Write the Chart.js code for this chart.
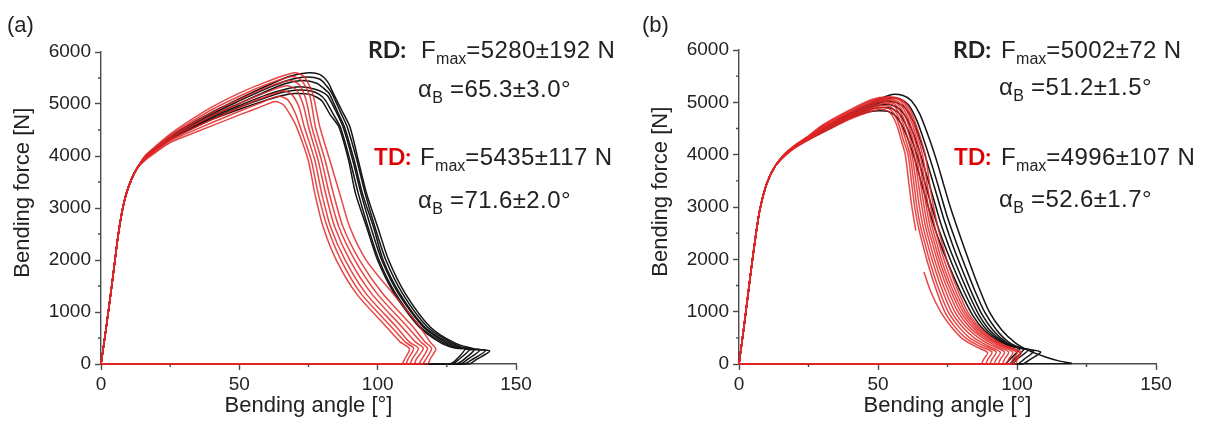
<!DOCTYPE html>
<html>
<head>
<meta charset="utf-8">
<script src="https://cdn.jsdelivr.net/npm/chart.js@4"></script>
<style>
  html, body { margin: 0; padding: 0; background: #fff; }
  #wrap { position: relative; width: 1207px; height: 427px; overflow: hidden; font-family: "Liberation Sans", Arial, sans-serif; color: #222; }
  canvas { position: absolute; top: 0; }
  .note { position: absolute; font-size: 24px; line-height: 24px; letter-spacing: 0.4px; white-space: nowrap; }
  .note sub { font-size: 16px; vertical-align: -6px; line-height: 0; letter-spacing: 0; }
  .lab { font-family: Lato, "Open Sans", sans-serif; font-weight: bold; font-size: 23px; line-height: 23px; letter-spacing: 0; }
  .red { color: #e00000; }
  .panel { position: absolute; font-size: 22px; line-height: 22px; }
</style>
</head>
<body>
<div id="wrap">
  <canvas id="chartA" width="620" height="427" style="left:0"></canvas>
  <canvas id="chartB" width="569" height="427" style="left:638px"></canvas>

  <div class="panel" style="left:7px; top:14px">(a)</div>
  <div class="panel" style="left:642px; top:14px">(b)</div>

  <div class="note lab" style="left:368px; top:38px">RD:</div>
  <div class="note" style="left:421px; top:38px">F<sub>max</sub>=5280±192 N</div>
  <div class="note" style="left:418px; top:77px">α<sub>B</sub> =65.3±3.0°</div>
  <div class="note lab red" style="left:374px; top:145px">TD:</div>
  <div class="note" style="left:420px; top:145px">F<sub>max</sub>=5435±117 N</div>
  <div class="note" style="left:418px; top:188px">α<sub>B</sub> =71.6±2.0°</div>

  <div class="note lab" style="left:953px; top:38px">RD:</div>
  <div class="note" style="left:1001px; top:38px">F<sub>max</sub>=5002±72 N</div>
  <div class="note" style="left:999px; top:75px">α<sub>B</sub> =51.2±1.5°</div>
  <div class="note lab red" style="left:954px; top:145px">TD:</div>
  <div class="note" style="left:1001px; top:145px">F<sub>max</sub>=4996±107 N</div>
  <div class="note" style="left:999px; top:187px">α<sub>B</sub> =52.6±1.7°</div>
</div>
<script>
// axis ticks
const xTicks = [0, 50, 100, 150];
const xMinor = [25, 75, 125];
const yTicks = [0, 1000, 2000, 3000, 4000, 5000, 6000];
const yMinor = [500, 1500, 2500, 3500, 4500, 5500];

// (a) bending angle [deg], bending force [N] - elastic start shared by all samples
const riseA = [[0,0],[2,750],[4,1550],[6,2400],[7.5,2900],[9,3250],[11,3550],[13,3760]];

// (a) RD samples
const rdA1 = [[16,3990],[20,4170],[25,4370],[30,4540],[40,4840],[50,5100],[60,5350],[68,5530],[75,5600],[79,5570],[82,5420],[84,5200],[87,4880],[90,4558],[93,3917],[96,3277],[100,2635],[104,1994],[110,1354],[119,712],[128,400],[135,290],[140.5,250],[135.5,80],[133,0],[0,0]];
const rdA2 = [[16,3985],[20,4160],[25,4360],[30,4520],[40,4810],[50,5060],[60,5300],[68,5460],[74,5520],[79,5480],[81.5,5350],[83.5,5200],[86.5,4850],[89,4558],[92.5,3917],[95.5,3277],[99,2635],[103,1994],[109,1354],[118,712],[127,400],[133,280],[139,260],[134,80],[131,0],[0,0]];
const rdA3 = [[16,3980],[20,4150],[25,4350],[30,4500],[40,4780],[50,5010],[60,5250],[67,5400],[73,5450],[78,5400],[80.5,5300],[82.5,5200],[85.5,4850],[88,4558],[91.5,3917],[94.5,3277],[98.5,2635],[102,1994],[108,1354],[117,712],[126,400],[132,290],[137,270],[132,70],[130,0],[0,0]];
const rdA4 = [[16,3975],[20,4145],[25,4340],[30,4480],[40,4750],[50,4970],[60,5180],[67,5290],[72,5330],[77,5290],[80,5230],[82,5150],[85,4850],[87.5,4558],[91,3917],[94,3277],[97.5,2635],[101.5,1994],[107.5,1354],[116.5,712],[125,400],[130,300],[135,290],[131,80],[128,0],[0,0]];
const rdA5 = [[16,3970],[20,4140],[25,4335],[30,4470],[40,4720],[50,4940],[60,5130],[66,5230],[71,5270],[76,5250],[79,5180],[81,5080],[84,4800],[86.5,4558],[90,3917],[93,3277],[96.5,2635],[100.5,1994],[106.5,1354],[115.5,712],[124,400],[129,300],[133.5,300],[129,70],[127,0],[0,0]];
const rdA6 = [[16,3965],[20,4130],[25,4320],[30,4450],[40,4700],[50,4900],[60,5080],[66,5170],[70,5200],[75,5190],[78,5130],[80,5050],[83,4780],[86,4558],[89.5,3917],[92,3277],[96,2635],[100,1994],[106,1354],[115,712],[123,400],[127.5,310],[131.5,290],[128,60],[126,0],[0,0]];

// (a) TD samples
const tdA1 = [[16,3920],[20,4080],[25,4260],[30,4370],[40,4580],[50,4790],[58,4950],[63,5050],[66,4980],[68.5,4780],[70.7,4558],[74.9,3917],[77.3,3277],[80.3,2635],[85.1,1994],[92.3,1354],[103.2,712],[108,430],[111.5,290],[110,120],[108.5,0],[0,0]];
const tdA2 = [[16,3935],[20,4100],[25,4290],[30,4410],[40,4640],[50,4860],[58,5030],[64,5150],[67.5,5080],[70,4850],[72,4558],[76,3917],[78.5,3277],[81.8,2635],[86.8,1994],[94,1354],[105,712],[110,420],[113,300],[111,100],[110,0],[0,0]];
const tdA3 = [[16,3950],[20,4120],[25,4315],[30,4450],[40,4700],[50,4930],[58,5110],[66,5250],[69,5180],[71.5,4950],[73.5,4558],[77.3,3917],[79.8,3277],[83,2635],[88.3,1994],[95.8,1354],[106.8,712],[111.5,420],[114.7,300],[112.5,100],[111.5,0],[0,0]];
const tdA4 = [[16,3965],[20,4140],[25,4345],[30,4490],[40,4770],[50,5010],[60,5230],[67,5350],[70.5,5280],[73,5000],[75,4558],[78.5,3917],[81.2,3277],[84.5,2635],[90,1994],[97.8,1354],[108.8,712],[113.5,430],[116.5,300],[114,100],[113,0],[0,0]];
const tdA5 = [[16,3980],[20,4160],[25,4370],[30,4530],[40,4830],[50,5090],[60,5320],[68,5450],[71.5,5380],[74,5100],[76.2,4558],[79.7,3917],[82.5,3277],[86,2635],[91.8,1994],[99.8,1354],[110.8,712],[115.5,430],[118,300],[116,100],[114.5,0],[0,0]];
const tdA6 = [[16,3995],[20,4180],[25,4395],[30,4570],[40,4890],[50,5150],[60,5380],[69,5530],[72.5,5450],[75.5,5150],[77.5,4558],[81,3917],[84,3277],[87.5,2635],[93.5,1994],[101.8,1354],[112.8,712],[117,430],[119.5,300],[117.5,100],[116,0],[0,0]];
const tdA7 = [[16,4010],[20,4200],[25,4420],[30,4610],[40,4940],[50,5210],[60,5430],[70,5600],[73.5,5520],[76.5,5200],[79.1,4558],[82.7,3917],[86.3,3277],[89.9,2635],[95.9,1994],[105.5,1354],[115.3,712],[119,420],[121,290],[119,100],[118,0],[0,0]];

// (b) elastic start
const riseB = [[0,0],[2,800],[4,1650],[6,2450],[7.5,2950],[10,3450],[13,3780]];

// (b) RD samples
const rdB1 = [[16.5,4010],[20,4165],[25,4330],[32,4560],[40,4800],[48,5000],[55,5150],[59,5130],[62,5030],[65,4780],[68.5,4300],[71,3900],[73.5,3450],[76,3000],[79.5,2450],[82.5,2000],[86,1500],[90,1000],[94.5,650],[99.5,400],[104.5,250],[110,140],[115,60],[119.5,10],[0,0]];
const rdB2 = [[16.5,4005],[20,4160],[25,4320],[32,4540],[40,4780],[48,4970],[54,5080],[58,5060],[61,4950],[64,4650],[67,4200],[70,3700],[72.5,3250],[75,2800],[78.3,2300],[81.5,1850],[85,1380],[88.5,980],[92.5,660],[97,420],[102,300],[108.5,230],[104.5,80],[102,0],[0,0]];
const rdB3 = [[16.5,4000],[20,4155],[25,4315],[32,4530],[40,4760],[48,4940],[53,5020],[57,4990],[60,4880],[63,4600],[66,4150],[68.8,3650],[71.3,3200],[73.8,2750],[77,2250],[80.3,1800],[83.8,1350],[87.3,960],[91.3,650],[96,420],[101,300],[106,250],[102.5,90],[100,0],[0,0]];
const rdB4 = [[16.5,3995],[20,4150],[25,4310],[32,4510],[40,4740],[47,4900],[52,4960],[56,4930],[59,4800],[62,4500],[65,4050],[67.8,3550],[70.3,3100],[72.8,2650],[76,2180],[79.3,1750],[82.8,1320],[86.3,940],[90.3,640],[95,430],[99.5,320],[104,270],[100,90],[98,0],[0,0]];
const rdB5 = [[16.5,3990],[20,4145],[25,4300],[32,4500],[40,4720],[46,4850],[51,4900],[55,4880],[58,4760],[61,4450],[64,4000],[66.8,3480],[69.2,3030],[71.7,2600],[75,2130],[78.3,1700],[81.8,1290],[85.3,930],[89.3,640],[94,440],[98.5,330],[102.5,290],[99,90],[97,0],[0,0]];
const rdB6 = [[16.5,3985],[20,4140],[25,4290],[32,4480],[40,4700],[46,4810],[50,4840],[54,4820],[57,4700],[60,4400],[63,3950],[65.8,3420],[68.2,2980],[70.7,2550],[74,2080],[77.3,1660],[80.8,1260],[84.3,910],[88.3,640],[93,450],[97.5,340],[101,300],[97.5,90],[95.5,0],[0,0]];

// (b) TD samples (null = gap in the recorded signal)
const tdB1 = [[16.5,3975],[20,4125],[25,4280],[30,4420],[40,4680],[47,4820],[51,4870],[54,4820],[56.5,4600],[58.5,4250],[59.8,4000],[61,3500],[62.2,3000],[63.6,2550],[65,null],[66.5,1760],[69,1380],[72.5,1000],[76.2,720],[80,500],[84.5,350],[89.4,220],[88,90],[87,0],[0,0]];
const tdB2 = [[16.5,3980],[20,4130],[25,4290],[30,4440],[40,4700],[47,4850],[51,4900],[54.5,4860],[57,4650],[59,4300],[60.8,4000],[62,3500],[63.2,3000],[64.6,2600],[66,2300],[67.6,1983],[70.4,1500],[74,1000],[77.8,700],[81.5,500],[85.8,360],[91,230],[89.5,90],[88.5,0],[0,0]];
const tdB3 = [[16.5,3985],[20,4140],[25,4300],[30,4460],[40,4720],[47,4880],[51.5,4940],[55,4900],[57.5,4700],[59.6,4350],[61.5,4000],[62.8,3500],[64,3000],[65.4,2600],[66.9,2300],[68.5,1983],[71.4,1500],[75.2,1000],[79.2,700],[83,500],[87.5,360],[92.5,230],[91,90],[90,0],[0,0]];
const tdB4 = [[16.5,3990],[20,4145],[25,4305],[30,4475],[40,4740],[48,4920],[52,4980],[55.5,4940],[58,4740],[60.2,4400],[62.2,4000],[63.6,3500],[64.9,3000],[66.3,2600],[67.8,2300],[69.5,1983],[72.5,1500],[76.4,1000],[80.5,700],[84.6,500],[89,360],[94,225],[92.5,90],[91.5,0],[0,0]];
const tdB5 = [[16.5,3995],[20,4150],[25,4310],[30,4490],[40,4760],[48,4950],[52,5010],[56,4970],[58.5,4780],[60.8,4450],[63,4000],[64.4,3500],[65.8,3000],[67.2,2600],[68.7,2300],[70.4,1983],[73.5,1500],[77.6,1000],[81.8,700],[86.2,500],[90.6,360],[95.5,230],[94,90],[93,0],[0,0]];
const tdB6 = [[16.5,4000],[20,4155],[25,4320],[30,4505],[40,4780],[48,4980],[52.5,5040],[56.5,5000],[59,4820],[61.4,4500],[63.7,4000],[65.2,3500],[66.6,3000],[68,2600],[69.6,2300],[71.3,1983],[74.5,1500],[78.7,1000],[83,700],[87.6,500],[92,360],[97,230],[95.5,90],[94.5,0],[0,0]];
const tdB7 = [[16.5,4005],[20,4160],[25,4330],[30,4520],[40,4800],[48,5000],[53,5060],[57,5020],[59.5,4850],[62,4520],[64.5,4000],[66,3500],[67.4,3000],[68.8,2600],[70.4,2300],[72.1,1983],[75.4,1500],[79.7,1000],[84.1,700],[88.6,500],[93.2,360],[98.5,225],[97,90],[96,0],[0,0]];
const tdB8 = [[16.5,4010],[20,4165],[25,4340],[30,4535],[40,4820],[48,5020],[53,5080],[57.5,5050],[60,4880],[62.5,4560],[65.2,4000],[66.7,3500],[68.1,3000],[69.6,2600],[71.2,2300],[72.9,1983],[76.2,1500],[80.6,1000],[85,700],[89.5,500],[94.2,360],[100,220],[98.5,90],[97.5,0],[0,0]];
const tdB9 = [[16.5,4015],[20,4170],[25,4350],[30,4550],[40,4840],[48,5040],[53.5,5100],[58,5060],[60.5,4900],[63,4580],[66,4000],[67.5,3500],[69,3000],[70.5,2600],[72,2300],[73.8,1983],[77.1,1500],[81.4,1000],[85.8,700],[90.2,500],[95,360],[101,220],[99.5,90],[98.5,0],[0,0]];
const tdB10 = [[16.5,4020],[20,4180],[25,4360],[30,4565],[40,4860],[48,5060],[54,5100],[58.5,5050],[61,4920],[63.5,4600],[67,4000],[68.4,3500],[70,3000],[71.6,2600],[73.1,2300],[74.8,1983],[78,1500],[82.2,1000],[86.5,700],[90.8,500],[95.5,360],[101.5,230],[100,80],[99.5,0],[0,0]];

const rdA = [rdA1, rdA2, rdA3, rdA4, rdA5, rdA6];
const tdA = [tdA1, tdA2, tdA3, tdA4, tdA5, tdA6, tdA7];
const rdB = [rdB1, rdB2, rdB3, rdB4, rdB5, rdB6];
const tdB = [tdB1, tdB2, tdB3, tdB4, tdB5, tdB6, tdB7, tdB8, tdB9, tdB10];

const fontFamily = '"Liberation Sans", Arial, sans-serif';
const axisColor = '#4a4a4a';
const textColor = '#222';
const blackLine = '#141414';
const redLine = 'rgba(226, 38, 38, 0.85)';

function toPoints(rise, tail) {
    return rise.concat(tail).map(p => ({ x: p[0], y: p[1] }));
}

function makeDatasets(rise, rdList, tdList) {
    const sets = [];
    rdList.forEach(tail => {
        sets.push({ data: toPoints(rise, tail), borderColor: blackLine, borderWidth: 1.5, order: 2, clip: false });
    });
    tdList.forEach(tail => {
        sets.push({ data: toPoints(rise, tail), borderColor: redLine, borderWidth: 1.5, order: 1, clip: false });
    });
    return sets;
}

// small unlabelled ticks between the labelled ones
const minorTicks = {
    id: 'minorTicks',
    afterDraw(chart) {
        const ctx = chart.ctx;
        const xs = chart.scales.x;
        const ys = chart.scales.y;
        ctx.save();
        ctx.strokeStyle = axisColor;
        ctx.lineWidth = 1.4;
        ctx.beginPath();
        xMinor.forEach(v => {
            const px = xs.getPixelForValue(v);
            ctx.moveTo(px, xs.top);
            ctx.lineTo(px, xs.top + 3);
        });
        yMinor.forEach(v => {
            const py = ys.getPixelForValue(v);
            ctx.moveTo(ys.right, py);
            ctx.lineTo(ys.right - 3, py);
        });
        ctx.stroke();
        ctx.restore();
    }
};

function createChart(canvasId, rise, rdList, tdList, pad) {
    const ctx = document.getElementById(canvasId).getContext('2d');
    return new Chart(ctx, {
        type: 'scatter',
        data: { datasets: makeDatasets(rise, rdList, tdList) },
        options: {
            responsive: false,
            animation: false,
            devicePixelRatio: 1,
            layout: { padding: pad },
            elements: {
                point: { radius: 0, hoverRadius: 0 },
                line: { tension: 0.25, fill: false }
            },
            datasets: { scatter: { showLine: true, spanGaps: false } },
            plugins: { legend: { display: false }, tooltip: { enabled: false } },
            scales: {
                x: {
                    type: 'linear',
                    min: 0,
                    max: 150,
                    afterBuildTicks: s => { s.ticks = xTicks.map(v => ({ value: v })); },
                    afterFit: s => { s.height = 63; },
                    grid: { drawOnChartArea: false, tickLength: 6, tickColor: axisColor, tickWidth: 1.4 },
                    border: { color: axisColor, width: 1.4 },
                    ticks: { color: textColor, font: { family: fontFamily, size: 19 }, padding: 3, maxRotation: 0, callback: v => String(v) },
                    title: { display: true, text: 'Bending angle [°]', color: textColor, font: { family: fontFamily, size: 22 }, padding: { top: 0, bottom: 8 } }
                },
                y: {
                    type: 'linear',
                    min: 0,
                    max: 6000,
                    afterBuildTicks: s => { s.ticks = yTicks.map(v => ({ value: v })); },
                    afterFit: s => { s.width = 101; },
                    grid: { drawOnChartArea: false, tickLength: 6, tickColor: axisColor, tickWidth: 1.4 },
                    border: { color: axisColor, width: 1.4 },
                    ticks: { color: textColor, font: { family: fontFamily, size: 19 }, padding: 4, callback: v => String(v) },
                    // leading spaces lift the title a little above the axis centre, as in the figure
                    title: { display: true, text: '     Bending force [N]', color: textColor, font: { family: fontFamily, size: 22 }, padding: { top: 10, bottom: 0 } }
                }
            }
        },
        plugins: [minorTicks]
    });
}

createChart('chartA', riseA, rdA, tdA, { left: 0, right: 104, top: 52, bottom: 0 });
createChart('chartB', riseB, rdB, tdB, { left: 0, right: 51, top: 50, bottom: 0 });
</script>
</body>
</html>
